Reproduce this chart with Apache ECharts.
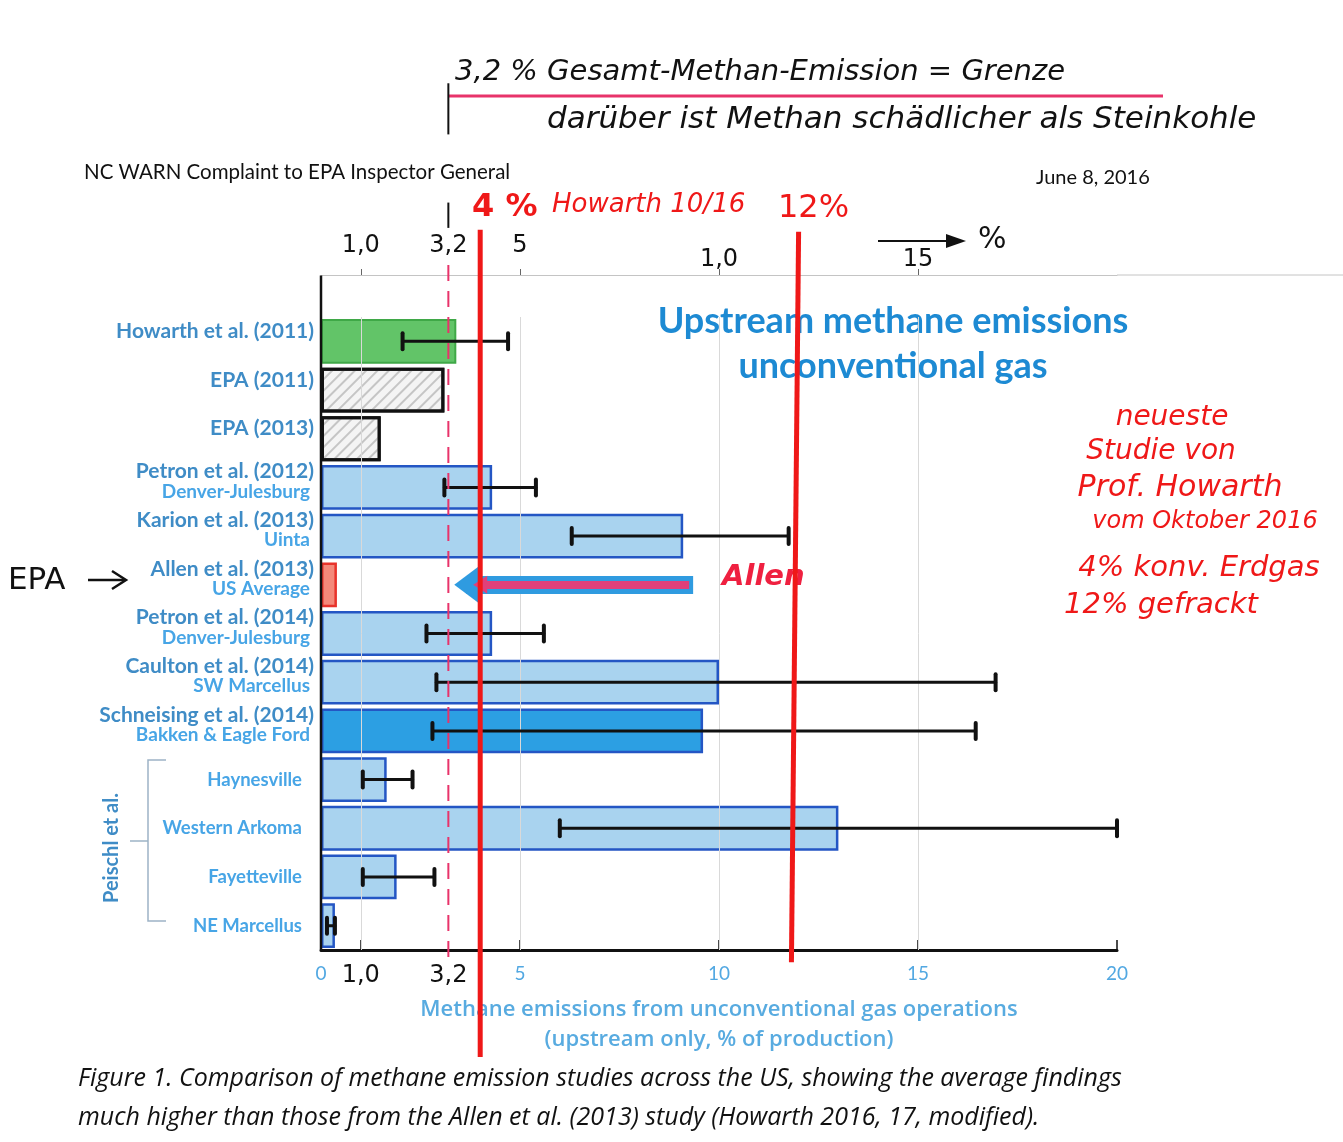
<!DOCTYPE html>
<html><head><meta charset="utf-8">
<script src="https://cdn.jsdelivr.net/npm/echarts@6/dist/echarts.min.js"></script>
<style>html,body{margin:0;padding:0;background:#fff}#c{width:1343px;height:1142px}</style>
</head><body><div id="c"></div>
<script>
// ---------------- data ----------------
const categories = ['Howarth et al. (2011)', 'EPA (2011)', 'EPA (2013)', 'Petron et al. (2012)', 'Karion et al. (2013)',
  'Allen et al. (2013)', 'Petron et al. (2014)', 'Caulton et al. (2014)', 'Schneising et al. (2014)',
  'Haynesville', 'Western Arkoma', 'Fayetteville', 'NE Marcellus'];
const subLabels = ['', '', '', 'Denver-Julesburg', 'Uinta', 'US Average', 'Denver-Julesburg', 'SW Marcellus',
  'Bakken & Eagle Ford', '', '', '', ''];
const peischlGroup = ['Haynesville', 'Western Arkoma', 'Fayetteville', 'NE Marcellus'];
const values = [3.4, 3.1, 1.5, 4.3, 9.1, 0.4, 4.3, 10.0, 9.6, 1.65, 13.0, 1.9, 0.35];
const errLow = [2.05, null, null, 3.1, 6.3, null, 2.65, 2.9, 2.8, 1.05, 6.0, 1.05, 0.15];
const errHigh = [4.7, null, null, 5.4, 11.75, null, 5.6, 16.95, 16.45, 2.3, 20.0, 2.85, 0.35];
const barKinds = ['green', 'hatch', 'hatch', 'blue', 'blue', 'red', 'blue', 'blue', 'dark', 'blue', 'blue', 'blue', 'blue'];
const bottomTickLabels = [0, 1, 3.2, 5, 10, 15, 20];
const topTickValues = [1, 3.2, 5, 10, 15];
const topTickLabels = ['1,0', '3,2', '5', '1,0', '15'];
const gridValues = [1, 5, 10, 15];
const limitValues = [3.2, 4, 12];          // dashed 3,2 % limit, Howarth 4 % and 12 %
const allenArrow = [9.35, 3.25];           // hand-drawn arrow from / to (%)

// ---------------- layout / style ----------------
const HAND = "'DejaVu Sans', sans-serif";
const PRINT = "Lato, 'Open Sans', sans-serif";
const WIDE = "'Open Sans', Lato, sans-serif";
const RED = '#ef1818';
const LABEL_BLUE = '#3f8cc6';
const SUB_BLUE = '#47a5e6';

const kindStyle = {
  green: {color: '#62c468', borderColor: '#3fa847', borderWidth: 2},
  hatch: {color: '#f4f4f4', borderColor: '#111', borderWidth: 3,
    decal: {symbol: 'rect', symbolSize: 1, dashArrayX: [[1, 0]], dashArrayY: [2, 6], rotation: -Math.PI / 4, color: 'rgba(110,110,110,0.35)'}},
  blue: {color: '#a9d3ef', borderColor: '#2456c4', borderWidth: 2.5},
  dark: {color: '#2c9fe3', borderColor: '#2456c4', borderWidth: 2.5},
  red: {color: '#f4897a', borderColor: '#e8332b', borderWidth: 2.5}
};

// vertical spans of hand-drawn lines, in category-row units (row 0 = first bar)
const limitSpans = [
  {x: [limitValues[0], limitValues[0]], y: [-1.57, 12.71], style: {color: '#e8336a', width: 2, type: [16, 10]}},
  {x: [limitValues[1], limitValues[1]], y: [-2.29, 14.7], style: {color: RED, width: 5, type: 'solid'}},
  {x: [limitValues[2], limitValues[2] - 0.18], y: [-2.25, 12.75], style: {color: RED, width: 5, type: 'solid'}},
  {x: [limitValues[0], limitValues[0]], y: [-2.85, -2.33], style: {color: '#111', width: 2, type: 'solid'}},
  {x: [0, 0], y: [-1.35, 12.5], style: {color: '#111', width: 2.5, type: 'solid'}},
  {x: [limitValues[0], limitValues[0]], y: [-5.3, -4.25], style: {color: '#111', width: 2, type: 'solid'}}
];

const chart = echarts.init(document.getElementById('c'));

const barData = values.map((v, i) => ({value: v, itemStyle: kindStyle[barKinds[i]]}));
const errData = [];
errLow.forEach((lo, i) => { if (lo != null) errData.push({name: categories[i], value: [i, lo, errHigh[i]]}); });

function renderErr(params, api) {
  const row = api.value(0);
  const a = api.coord([api.value(1), row]);
  const b = api.coord([api.value(2), row]);
  const h = 8;
  const st = {stroke: '#111', lineWidth: 3, lineCap: 'round'};
  const cap = {stroke: '#111', lineWidth: 4, lineCap: 'round'};
  return {type: 'group', children: [
    {type: 'line', shape: {x1: a[0], y1: a[1], x2: b[0], y2: b[1]}, style: st},
    {type: 'line', shape: {x1: a[0], y1: a[1] - h, x2: a[0], y2: a[1] + h}, style: cap},
    {type: 'line', shape: {x1: b[0], y1: b[1] - h, x2: b[0], y2: b[1] + h}, style: cap}
  ]};
}

function catLabel(value, idx) {
  if (peischlGroup.indexOf(value) >= 0) return '{c|' + value + '}';
  const sub = subLabels[idx];
  if (!sub) return '{a|' + value + '}\n{b| }';
  return '{a|' + value + '}\n{b|' + sub + '}\n{s| }';
}

const limitSeries = limitSpans.map(s => ({
  type: 'line', xAxisIndex: 0, yAxisIndex: 1, clip: false, silent: true, symbol: 'none', z: 6,
  data: [[s.x[0], s.y[0]], [s.x[1], s.y[1]]],
  lineStyle: {color: s.style.color, width: s.style.width, type: s.style.type}
}));

const option = {
  animation: false,
  backgroundColor: '#fff',
  grid: {left: 321, right: 226, top: 317, bottom: 192, containLabel: false},
  xAxis: [
    {type: 'value', min: 0, max: 20, position: 'bottom',
      axisLine: {show: true, onZero: false, lineStyle: {color: '#111', width: 3}},
      axisTick: {show: true, inside: true, length: 10, customValues: [1, 5, 10, 15, 20], lineStyle: {color: '#111', width: 1.5}},
      splitLine: {show: false},
      axisLabel: {customValues: bottomTickLabels, margin: 14,
        formatter: v => (v === 1 ? '{h|1,0}' : v === 3.2 ? '{h|3,2}' : '{n|' + v + '}'),
        rich: {n: {fontFamily: PRINT, fontSize: 19, color: '#52a8e2'},
               h: {fontFamily: HAND, fontSize: 24, color: '#111'}}},
      name: 'Methane emissions from unconventional gas operations\n(upstream only, % of production)',
      nameLocation: 'middle', nameGap: 45,
      nameTextStyle: {fontFamily: WIDE, fontSize: 22, fontWeight: 600, color: '#58abe0', lineHeight: 30}},
    {type: 'value', min: 0, max: 20, position: 'top', offset: 42,
      axisLine: {show: true, onZero: false, lineStyle: {color: '#c4c4c4', width: 1}},
      axisTick: {show: true, inside: false, length: 6, customValues: topTickValues, lineStyle: {color: '#666'}},
      splitLine: {show: false},
      axisLabel: {customValues: topTickValues, margin: 1,
        formatter: v => (v >= 10 ? '{lo|' : '{hi|') + topTickLabels[topTickValues.indexOf(v)] + '}',
        rich: {hi: {fontFamily: HAND, fontSize: 24, color: '#111', padding: [0, 0, 16, 0]},
               lo: {fontFamily: HAND, fontSize: 24, color: '#111', padding: [0, 0, 2, 0]}}}}
  ],
  yAxis: [
    {type: 'category', data: categories, inverse: true,
      axisLine: {show: false}, axisTick: {show: false},
      axisLabel: {margin: 7, formatter: catLabel,
        rich: {a: {fontFamily: PRINT, fontSize: 21, fontWeight: 'bold', color: LABEL_BLUE, lineHeight: 20},
               b: {fontFamily: PRINT, fontSize: 19, fontWeight: 'bold', color: SUB_BLUE, lineHeight: 20, padding: [0, 4, 0, 0]},
               s: {fontSize: 8, lineHeight: 12},
               c: {fontFamily: PRINT, fontSize: 18.5, fontWeight: 'bold', color: SUB_BLUE, padding: [0, 12, 0, 0]}}}},
    {type: 'value', min: -0.5, max: 12.5, inverse: true, show: false,
      axisLine: {onZero: false}}
  ],
  series: [
    {type: 'bar', name: 'emissions', data: barData, barCategoryGap: '8%', z: 3,
      markLine: {silent: true, symbol: 'none', label: {show: false},
        lineStyle: {color: '#d9d9d9', width: 1, type: 'solid'},
        data: gridValues.map(v => ({xAxis: v}))}},
    {type: 'custom', name: 'range', renderItem: renderErr, data: errData,
      dimensions: ['row', 'low', 'high'],
      encode: {y: 0, x: [1, 2]}, z: 5},
    {type: 'line', data: [], z: 7, silent: true,
      markLine: {silent: true, animation: false, label: {show: false},
        lineStyle: {color: '#2f9be0', width: 18, type: 'solid', cap: 'butt'},
        data: [[{coord: [allenArrow[0], 5], symbol: 'none'},
                {coord: [allenArrow[1] + 0.4, 5], symbol: 'triangle', symbolSize: [36, 24], symbolRotate: 90,
                 itemStyle: {color: '#2f9be0'}}]]}},
    {type: 'line', data: [], z: 8, silent: true,
      markLine: {silent: true, animation: false, label: {show: false},
        lineStyle: {color: '#e0407a', width: 8, type: 'solid', cap: 'butt'},
        data: [[{coord: [allenArrow[0] - 0.1, 5], symbol: 'none'},
                {coord: [allenArrow[1] + 0.75, 5], symbol: 'triangle', symbolSize: [18, 14], symbolRotate: 90,
                 itemStyle: {color: '#e0407a'}}]]}}
  ].concat(limitSeries),
  graphic: [
    {type: 'text', style: {text: '3,2 % Gesamt-Methan-Emission = Grenze', x: 455, y: 72, font: 'italic 29px ' + HAND, fill: '#111', textVerticalAlign: 'middle'}},
    {type: 'line', shape: {x1: 449, y1: 96, x2: 1163, y2: 96}, style: {stroke: '#e8336a', lineWidth: 3}},
    {type: 'text', style: {text: 'darüber ist Methan schädlicher als Steinkohle', x: 547, y: 120, font: 'italic 31px ' + HAND, fill: '#111', textVerticalAlign: 'middle'}},
    {type: 'text', style: {text: 'NC WARN Complaint to EPA Inspector General', x: 84, y: 172, font: '20.5px ' + PRINT, fill: '#111', textVerticalAlign: 'middle'}},
    {type: 'text', style: {text: 'June 8, 2016', x: 1036, y: 178, font: '20px ' + PRINT, fill: '#111', textVerticalAlign: 'middle'}},
    {type: 'text', style: {text: '4 %', x: 472, y: 208, font: 'bold 32px ' + HAND, fill: RED, textVerticalAlign: 'middle'}},
    {type: 'text', style: {text: 'Howarth 10/16', x: 552, y: 205, font: 'italic 26px ' + HAND, fill: RED, textVerticalAlign: 'middle'}},
    {type: 'text', style: {text: '12%', x: 778, y: 209, font: '32px ' + HAND, fill: RED, textVerticalAlign: 'middle'}},
    {type: 'line', shape: {x1: 878, y1: 241, x2: 952, y2: 241}, style: {stroke: '#111', lineWidth: 2}},
    {type: 'polygon', shape: {points: [[946, 234], [966, 241], [946, 248]]}, style: {fill: '#111'}},
    {type: 'text', style: {text: '%', x: 978, y: 240, font: '30px ' + HAND, fill: '#111', textVerticalAlign: 'middle'}},
    {type: 'line', shape: {x1: 1117, y1: 275, x2: 1343, y2: 275}, style: {stroke: '#c4c4c4', lineWidth: 1}},
    {type: 'text', style: {text: 'Upstream methane emissions', x: 893, y: 321, font: 'bold 36px ' + PRINT, fill: '#1d8ad3', textAlign: 'center', textVerticalAlign: 'middle'}},
    {type: 'text', style: {text: 'unconventional gas', x: 893, y: 366, font: 'bold 36px ' + PRINT, fill: '#1d8ad3', textAlign: 'center', textVerticalAlign: 'middle'}},
    {type: 'text', style: {text: 'Allen', x: 722, y: 577, font: 'bold italic 29px ' + HAND, fill: '#ef2040', textVerticalAlign: 'middle'}},
    {type: 'text', style: {text: 'EPA', x: 8, y: 581, font: '31px ' + HAND, fill: '#111', textVerticalAlign: 'middle'}},
    {type: 'line', shape: {x1: 88, y1: 580, x2: 124, y2: 580}, style: {stroke: '#111', lineWidth: 2.5}},
    {type: 'polyline', shape: {points: [[112, 571], [126, 580], [112, 589]]}, style: {stroke: '#111', lineWidth: 2.5, fill: null}},
    {type: 'text', style: {text: 'neueste', x: 1172, y: 418, font: 'italic 28px ' + HAND, fill: RED, textAlign: 'center', textVerticalAlign: 'middle'}},
    {type: 'text', style: {text: 'Studie von', x: 1161, y: 452, font: 'italic 28px ' + HAND, fill: RED, textAlign: 'center', textVerticalAlign: 'middle'}},
    {type: 'text', style: {text: 'Prof. Howarth', x: 1180, y: 488, font: 'italic 30px ' + HAND, fill: RED, textAlign: 'center', textVerticalAlign: 'middle'}},
    {type: 'text', style: {text: 'vom Oktober 2016', x: 1205, y: 522, font: 'italic 24px ' + HAND, fill: RED, textAlign: 'center', textVerticalAlign: 'middle'}},
    {type: 'text', style: {text: '4% konv. Erdgas', x: 1199, y: 568, font: 'italic 29px ' + HAND, fill: RED, textAlign: 'center', textVerticalAlign: 'middle'}},
    {type: 'text', style: {text: '12% gefrackt', x: 1161, y: 605, font: 'italic 29px ' + HAND, fill: RED, textAlign: 'center', textVerticalAlign: 'middle'}},
    {type: 'text', rotation: Math.PI / 2, x: 112, y: 848, style: {text: 'Peischl et al.', x: 0, y: 0, font: 'bold 20px ' + PRINT, fill: '#3f8cc6', textAlign: 'center', textVerticalAlign: 'middle'}},
    {type: 'polyline', shape: {points: [[166, 760], [148, 760], [148, 921], [166, 921]]}, style: {stroke: '#9db3c6', lineWidth: 1.5, fill: null}},
    {type: 'line', shape: {x1: 130, y1: 841, x2: 148, y2: 841}, style: {stroke: '#9db3c6', lineWidth: 1.5}},
    {type: 'text', style: {text: 'Figure 1. Comparison of methane emission studies across the US, showing the average findings', x: 78, y: 1079, font: 'italic 25px ' + WIDE, fill: '#111', textVerticalAlign: 'middle'}},
    {type: 'text', style: {text: 'much higher than those from the Allen et al. (2013) study (Howarth 2016, 17, modified).', x: 78, y: 1118, font: 'italic 25px ' + WIDE, fill: '#111', textVerticalAlign: 'middle'}}
  ]
};
chart.setOption(option);
</script>
</body></html>
